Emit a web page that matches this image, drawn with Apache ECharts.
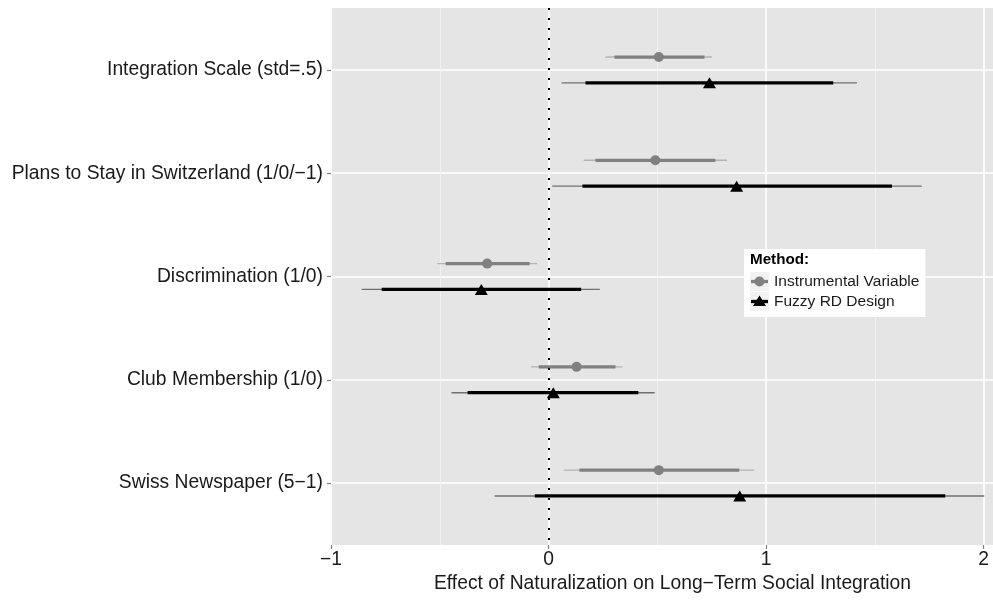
<!DOCTYPE html>
<html>
<head>
<meta charset="utf-8">
<title>Effect of Naturalization</title>
<script src="https://cdn.jsdelivr.net/npm/echarts@6/dist/echarts.min.js"></script>
<style>
  html, body { margin: 0; padding: 0; background: #fff; }
  #chart { width: 993px; height: 600px; }
</style>
</head>
<body>
<div id="chart"></div>
<script>
// outcome labels, top to bottom
const categories = [
  'Integration Scale (std=.5)',
  'Plans to Stay in Switzerland (1/0/\u22121)',
  'Discrimination (1/0)',
  'Club Membership (1/0)',
  'Swiss Newspaper (5\u22121)'
];

// Instrumental Variable: estimate, 90% and 95% intervals
const ivEst  = [0.507, 0.491, -0.282, 0.129, 0.507];
const ivLo90 = [0.303, 0.216, -0.473, -0.045, 0.142];
const ivHi90 = [0.717, 0.767, -0.087, 0.308, 0.877];
const ivLo95 = [0.262, 0.162, -0.511, -0.081, 0.070];
const ivHi95 = [0.752, 0.821, -0.052, 0.340, 0.946];

// Fuzzy RD Design: estimate, 90% and 95% intervals
const rdEst  = [0.740, 0.865, -0.309, 0.022, 0.879];
const rdLo90 = [0.170, 0.156, -0.767, -0.372, -0.063];
const rdHi90 = [1.309, 1.579, 0.150, 0.413, 1.824];
const rdLo95 = [0.060, 0.017, -0.859, -0.446, -0.248];
const rdHi95 = [1.418, 1.716, 0.236, 0.488, 2.003];

const xTicks = [-1, 0, 1, 2];

const FONT = '"Liberation Sans", Arial, Helvetica, sans-serif';
const DODGE = 0.125; // half of the dodge width, in category units

// category i sits at y = i + 1 on the (inverted) value axis
function rows(lo95, hi95, lo90, hi90, offset) {
  return categories.map((c, i) => [i + 1 + offset, lo95[i], hi95[i], lo90[i], hi90[i]]);
}
function points(est, offset) {
  return categories.map((c, i) => [est[i], i + 1 + offset]);
}

function intervalRenderer(thinColor, thickColor) {
  return function (params, api) {
    const y = api.value(0);
    const a = api.coord([api.value(1), y]);
    const b = api.coord([api.value(2), y]);
    const c = api.coord([api.value(3), y]);
    const d = api.coord([api.value(4), y]);
    return {
      type: 'group',
      children: [
        { type: 'line', shape: { x1: a[0], y1: a[1], x2: b[0], y2: b[1] },
          style: { stroke: thinColor, lineWidth: 1.4 } },
        { type: 'line', shape: { x1: c[0], y1: c[1], x2: d[0], y2: d[1] },
          style: { stroke: thickColor, lineWidth: 3.3 } }
      ]
    };
  };
}

function keyIcon(color, marker) {
  const svg = '<svg xmlns="http://www.w3.org/2000/svg" width="19" height="19">' +
    '<rect width="19" height="19" fill="#f2f2f2"/>' +
    '<line x1="1" y1="9.5" x2="18" y2="9.5" stroke="' + color + '" stroke-width="3.3"/>' +
    marker + '</svg>';
  return 'image://data:image/svg+xml;charset=utf-8,' + encodeURIComponent(svg);
}

const myChart = echarts.init(document.getElementById('chart'));

myChart.setOption({
  animation: false,
  textStyle: { fontFamily: FONT },
  grid: {
    left: 331, top: 8, right: -21, bottom: 55,
    outerBoundsMode: 'none',
    containLabel: false,
    show: true, backgroundColor: '#e5e5e5', borderWidth: 0
  },
  xAxis: {
    type: 'value',
    min: -1, max: 2.14, interval: 1,
    name: 'Effect of Naturalization on Long\u2212Term Social Integration',
    nameLocation: 'middle',
    nameGap: 26,
    nameTextStyle: { fontSize: 19.3, color: '#1a1a1a', fontFamily: FONT },
    axisLine: { show: false, onZero: false },
    axisTick: { show: true, length: 4, lineStyle: { color: '#7f7f7f', width: 1.2 } },
    axisLabel: {
      fontSize: 19.3, color: '#1a1a1a', margin: 5, fontFamily: FONT,
      formatter: v => xTicks.indexOf(v) >= 0 ? String(v).replace('-', '\u2212') : ''
    },
    splitLine: { show: true, lineStyle: { color: '#ffffff', width: 1.7 } },
    minorTick: { show: false, splitNumber: 2 },
    minorSplitLine: { show: true, lineStyle: { color: '#f2f2f2', width: 0.9 } }
  },
  yAxis: {
    type: 'value',
    min: 0.4, max: 5.6,
    inverse: true,
    axisLine: { show: false, onZero: false },
    axisTick: { show: true, length: 4, customValues: [1, 2, 3, 4, 5],
      lineStyle: { color: '#7f7f7f', width: 1.2 } },
    axisLabel: {
      customValues: [1, 2, 3, 4, 5],
      fontSize: 19.3, color: '#1a1a1a', margin: 8, fontFamily: FONT,
      formatter: v => categories[Math.round(v) - 1] || ''
    },
    splitLine: { show: true, lineStyle: { color: '#ffffff', width: 1.7 } }
  },
  legend: {
    orient: 'vertical',
    left: 744, top: 249,
    padding: [23, 6, 6, 6],
    backgroundColor: '#ffffff',
    itemWidth: 19, itemHeight: 19, itemGap: 1,
    textStyle: { fontSize: 15.5, color: '#1a1a1a', fontFamily: FONT },
    data: [
      { name: 'Instrumental Variable',
        icon: keyIcon('#808080', '<circle cx="9.5" cy="9.5" r="5" fill="#808080"/>') },
      { name: 'Fuzzy RD Design',
        icon: keyIcon('#000000', '<path d="M9.5 3.5 L16 14 L3 14 Z" fill="#000000"/>') }
    ]
  },
  graphic: [{
    type: 'text', left: 750, top: 252, z: 100,
    style: { text: 'Method:', fontSize: 15.2, fontWeight: 'bold', fill: '#000', fontFamily: FONT }
  }],
  series: [
    {
      name: 'Instrumental Variable',
      type: 'custom',
      renderItem: intervalRenderer('#b3b3b3', '#808080'),
      encode: { x: [1, 2, 3, 4], y: 0 },
      data: rows(ivLo95, ivHi95, ivLo90, ivHi90, -DODGE),
      markLine: {
        silent: true, symbol: 'none',
        label: { show: false },
        lineStyle: { color: '#000', type: [2, 8], width: 2 },
        data: [{ xAxis: 0 }]
      }
    },
    {
      name: 'Fuzzy RD Design',
      type: 'custom',
      renderItem: intervalRenderer('#707070', '#000000'),
      encode: { x: [1, 2, 3, 4], y: 0 },
      data: rows(rdLo95, rdHi95, rdLo90, rdHi90, DODGE)
    },
    {
      name: 'Instrumental Variable',
      type: 'scatter',
      symbol: 'circle', symbolSize: 10,
      itemStyle: { color: '#808080', opacity: 1 },
      data: points(ivEst, -DODGE)
    },
    {
      name: 'Fuzzy RD Design',
      type: 'scatter',
      symbol: 'triangle', symbolSize: [13, 11],
      itemStyle: { color: '#000000', opacity: 1 },
      data: points(rdEst, DODGE)
    }
  ]
});
</script>
</body>
</html>
